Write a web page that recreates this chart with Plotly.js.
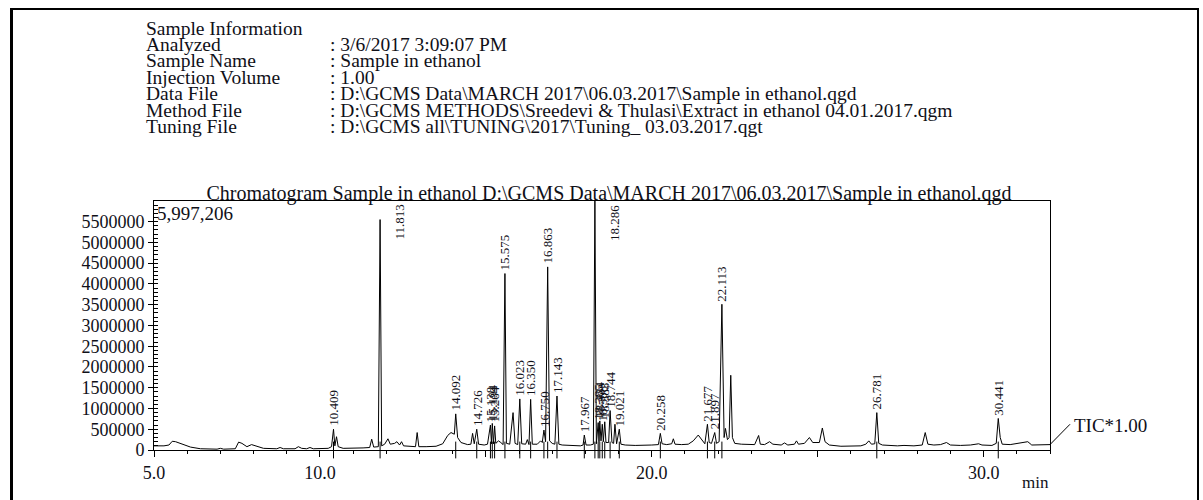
<!DOCTYPE html>
<html>
<head>
<meta charset="utf-8">
<script src="https://cdn.plot.ly/plotly-3.0.1.min.js"></script>
<style>
  html, body { margin: 0; padding: 0; background: #fff; overflow: hidden; }
  #chart { width: 1203px; height: 500px; }
  #frame { position: absolute; left: 10px; top: 8px; width: 1184px; height: 600px;
           border-left: 3px solid #000; border-top: 2px solid #000; border-right: 2px solid #000;
           pointer-events: none; }
</style>
</head>
<body>
<div id="chart"></div>
<div id="frame"></div>
<script>
// ---------------- data ----------------
const chartTitle = 'Chromatogram Sample in ethanol D:\\GCMS Data\\MARCH 2017\\06.03.2017\\Sample in ethanol.qgd';
const infoHeading = 'Sample Information';
const infoLabels = ['Analyzed', 'Sample Name', 'Injection Volume', 'Data File', 'Method File', 'Tuning File'];
const infoValues = [
  ': 3/6/2017 3:09:07 PM',
  ': Sample in ethanol',
  ': 1.00',
  ': D:\\GCMS Data\\MARCH 2017\\06.03.2017\\Sample in ethanol.qgd',
  ': D:\\GCMS METHODS\\Sreedevi & Thulasi\\Extract in ethanol 04.01.2017.qgm',
  ': D:\\GCMS all\\TUNING\\2017\\Tuning_ 03.03.2017.qgt'
];
const maxIntensityText = '5,997,206';
const maxIntensity = 5997206;
const traceName = 'TIC*1.00';
const xUnit = 'min';

// retention time (min)
const ticTime = [
  5.00, 5.30, 5.45, 5.55, 5.65, 5.85, 6.10, 6.40, 6.90, 7.00, 7.10, 7.45, 7.55, 7.65, 7.80, 7.94, 8.05,
  8.30, 8.70, 8.80, 8.90, 9.25, 9.35, 9.45, 9.60, 9.70, 9.80, 10.25, 10.35, 10.409, 10.45, 10.50, 10.55,
  10.70, 11.30, 11.50, 11.56, 11.62, 11.76, 11.813, 11.86, 11.95, 12.05, 12.12, 12.25, 12.32, 12.40,
  12.46, 12.52, 12.70, 12.88, 12.93, 12.98, 13.20, 13.50, 13.70, 13.85, 13.95, 14.05, 14.092, 14.15,
  14.25, 14.45, 14.55, 14.60, 14.65, 14.726, 14.78, 14.95, 15.05, 15.138, 15.17, 15.194, 15.23, 15.264,
  15.30, 15.38, 15.45, 15.52, 15.575, 15.62, 15.72, 15.82, 15.88, 15.96, 16.023, 16.08, 16.20, 16.25,
  16.30, 16.350, 16.40, 16.55, 16.65, 16.70, 16.750, 16.80, 16.863, 16.92, 17.00, 17.08, 17.143, 17.20,
  17.30, 17.60, 17.85, 17.93, 17.967, 18.02, 18.15, 18.24, 18.286, 18.33, 18.385, 18.41, 18.434, 18.47,
  18.508, 18.54, 18.583, 18.62, 18.70, 18.744, 18.80, 18.85, 18.89, 18.94, 19.021, 19.07, 19.20, 19.50,
  19.80, 20.00, 20.20, 20.258, 20.31, 20.45, 20.60, 20.65, 20.70, 20.90, 21.10, 21.25, 21.40, 21.52,
  21.60, 21.677, 21.73, 21.80, 21.897, 21.95, 22.03, 22.113, 22.18, 22.22, 22.28, 22.33, 22.38, 22.43,
  22.50, 22.70, 22.90, 23.10, 23.22, 23.27, 23.40, 23.55, 23.65, 23.90, 24.00, 24.10, 24.30, 24.36,
  24.42, 24.60, 24.75, 24.85, 25.05, 25.14, 25.22, 25.35, 25.70, 26.00, 26.30, 26.45, 26.54, 26.62,
  26.72, 26.781, 26.84, 26.95, 27.40, 27.60, 27.90, 28.15, 28.24, 28.32, 28.50, 28.70, 28.88, 29.00,
  29.30, 29.60, 29.85, 29.95, 30.25, 30.38, 30.441, 30.50, 30.56, 30.80, 31.00, 31.33, 31.45, 31.80, 32.00
];
// intensity (millions of counts)
const ticIntensityMillions = [
  0.10, 0.10, 0.12, 0.21, 0.20, 0.14, 0.07, 0.03, 0.02, 0.04, 0.02, 0.03, 0.19, 0.16, 0.08, 0.13, 0.10,
  0.04, 0.03, 0.06, 0.03, 0.03, 0.08, 0.04, 0.03, 0.06, 0.03, 0.04, 0.08, 0.50, 0.10, 0.32, 0.08,
  0.04, 0.05, 0.06, 0.26, 0.07, 0.08, 5.55, 0.10, 0.14, 0.27, 0.14, 0.16, 0.20, 0.12,
  0.20, 0.10, 0.09, 0.08, 0.42, 0.08, 0.08, 0.09, 0.15, 0.35, 0.42, 0.38, 0.87, 0.30,
  0.18, 0.13, 0.14, 0.40, 0.15, 0.50, 0.14, 0.12, 0.14, 0.60, 0.15, 0.64, 0.15, 0.58,
  0.16, 0.22, 0.18, 0.13, 4.25, 0.16, 0.14, 0.90, 0.16, 0.13, 1.23, 0.15, 0.14, 0.25,
  0.13, 1.22, 0.14, 0.14, 0.22, 0.18, 0.48, 0.20, 4.41, 0.22, 0.16, 0.14, 1.30, 0.14,
  0.12, 0.10, 0.10, 0.12, 0.36, 0.12, 0.12, 0.14, 5.997, 0.15, 0.66, 0.20, 0.70, 0.22,
  0.62, 0.20, 0.68, 0.18, 0.18, 0.95, 0.18, 0.16, 0.62, 0.15, 0.50, 0.14, 0.12, 0.11,
  0.11, 0.12, 0.13, 0.40, 0.15, 0.13, 0.15, 0.27, 0.14, 0.13, 0.14, 0.22, 0.36, 0.25,
  0.15, 0.62, 0.18, 0.16, 0.42, 0.16, 0.20, 3.51, 0.30, 0.52, 0.25, 0.30, 1.80, 0.30,
  0.16, 0.14, 0.14, 0.13, 0.35, 0.14, 0.13, 0.20, 0.14, 0.12, 0.17, 0.12, 0.14, 0.22,
  0.14, 0.16, 0.30, 0.18, 0.18, 0.53, 0.20, 0.12, 0.09, 0.09, 0.10, 0.14, 0.22, 0.14,
  0.15, 0.90, 0.16, 0.12, 0.10, 0.11, 0.10, 0.12, 0.42, 0.14, 0.12, 0.13, 0.18, 0.12,
  0.11, 0.12, 0.15, 0.12, 0.11, 0.16, 0.76, 0.30, 0.14, 0.13, 0.15, 0.20, 0.12, 0.12, 0.13
];

// labelled peaks
const peakLabels = ['10.409', '11.813', '14.092', '14.726', '15.138', '15.194', '15.264', '15.575',
  '16.023', '16.350', '16.750', '16.863', '17.143', '17.967', '18.286', '18.385', '18.434', '18.508',
  '18.583', '18.744', '19.021', '20.258', '21.677', '21.897', '22.113', '26.781', '30.441'];
const peakTime = [10.409, 11.813, 14.092, 14.726, 15.138, 15.194, 15.264, 15.575,
  16.023, 16.350, 16.750, 16.863, 17.143, 17.967, 18.286, 18.385, 18.434, 18.508,
  18.583, 18.744, 19.021, 20.258, 21.677, 21.897, 22.113, 26.781, 30.441];
const peakHeightMillions = [0.50, 5.55, 0.87, 0.50, 0.60, 0.64, 0.58, 4.25,
  1.23, 1.22, 0.48, 4.41, 1.30, 0.36, 5.997, 0.66, 0.70, 0.62,
  0.68, 0.95, 0.50, 0.40, 0.62, 0.42, 3.51, 0.90, 0.76];

const xTickVals = [5, 10, 15, 20, 25, 30];
const xTickText = ['5.0', '10.0', '', '20.0', '', '30.0'];
const yTickVals = [0, 500000, 1000000, 1500000, 2000000, 2500000, 3000000, 3500000, 4000000, 4500000, 5000000, 5500000];

// ---------------- layout helpers ----------------
const W = 1203, H = 500;
const M = { l: 154, r: 153, t: 201, b: 50 };
const plotW = W - M.l - M.r, plotH = H - M.t - M.b;
const px2x = px => (px - M.l) / plotW;
const px2y = py => (H - M.b - py) / plotH;
const serif = 'Liberation Serif, Times New Roman, serif';
const ink = '#101018';

const ticIntensity = ticIntensityMillions.map(v => v * 1e6);
const peakHeight = peakHeightMillions.map(v => v * 1e6);

const traces = [
  {
    type: 'scatter', mode: 'lines', x: ticTime, y: ticIntensity,
    line: { color: '#000', width: 1 }, hoverinfo: 'x+y', showlegend: false
  },
  {
    type: 'scatter', mode: 'markers', x: peakTime, y: peakTime.map(() => 0),
    marker: { symbol: 'line-ns-open', size: 12, color: '#000', line: { color: '#000', width: 1 } },
    cliponaxis: false, hoverinfo: 'skip', showlegend: false
  }
];

const headerSize = 19.5;
const annotations = [];
// header
annotations.push({ xref: 'paper', yref: 'paper', x: px2x(144), y: px2y(28), xanchor: 'left', yanchor: 'middle',
  text: infoHeading, showarrow: false, font: { family: serif, size: headerSize, color: ink } });
infoLabels.forEach((lab, i) => {
  const py = 44.3 + i * 16.45;
  annotations.push({ xref: 'paper', yref: 'paper', x: px2x(144), y: px2y(py), xanchor: 'left', yanchor: 'middle',
    text: lab, showarrow: false, font: { family: serif, size: headerSize, color: ink } });
  annotations.push({ xref: 'paper', yref: 'paper', x: px2x(328), y: px2y(py), xanchor: 'left', yanchor: 'middle',
    text: infoValues[i], showarrow: false, font: { family: serif, size: headerSize, color: ink } });
});
// max intensity
annotations.push({ xref: 'paper', yref: 'paper', x: px2x(155), y: 1, xanchor: 'left', yanchor: 'top', yshift: 0,
  text: maxIntensityText, showarrow: false, font: { family: serif, size: 19, color: ink } });
// trace name
annotations.push({ xref: 'paper', yref: 'paper', x: px2x(1072), y: px2y(425), xanchor: 'left', yanchor: 'middle',
  text: traceName, showarrow: false, font: { family: serif, size: 19, color: ink } });
// x unit
annotations.push({ xref: 'paper', yref: 'paper', x: px2x(1035), y: px2y(482), xanchor: 'center', yanchor: 'middle',
  text: xUnit, showarrow: false, font: { family: serif, size: 17, color: ink } });
// peak labels
const labelSpan = 0.8e6;
peakLabels.forEach((lab, i) => {
  const clamp = peakHeight[i] + labelSpan > maxIntensity;
  annotations.push({
    x: peakTime[i], y: clamp ? maxIntensity : peakHeight[i],
    xref: 'x', yref: 'y', textangle: -90, showarrow: false,
    xanchor: 'center', yanchor: clamp ? 'top' : 'bottom',
    xshift: clamp ? 19 : 0, yshift: clamp ? -2 : 1,
    text: lab, font: { family: serif, size: 13, color: ink }
  });
});

const layout = {
  width: W, height: H,
  margin: M,
  paper_bgcolor: '#fff', plot_bgcolor: '#fff',
  title: {
    text: chartTitle, xref: 'paper', x: px2x(609), xanchor: 'center',
    yref: 'container', y: 1 - 193 / H, yanchor: 'middle',
    font: { family: serif, size: 20, color: ink }
  },
  xaxis: {
    range: [5, 32], showgrid: false, zeroline: false,
    showline: true, linecolor: '#000', linewidth: 1, mirror: true,
    tickmode: 'array', tickvals: xTickVals, ticktext: xTickText,
    ticks: 'outside', ticklen: 6, tickcolor: '#000', tickwidth: 1,
    minor: { dtick: 1, ticks: 'outside', ticklen: 3, tickcolor: '#000', tickwidth: 1, showgrid: false },
    tickfont: { family: serif, size: 18, color: ink }, fixedrange: true
  },
  yaxis: {
    range: [0, maxIntensity], showgrid: false, zeroline: false,
    showline: true, linecolor: '#000', linewidth: 1, mirror: true,
    tickmode: 'array', tickvals: yTickVals, tickformat: 'd',
    ticks: 'outside', ticklen: 5, tickcolor: '#000', tickwidth: 1,
    minor: { dtick: 100000, ticks: 'inside', ticklen: 4, tickcolor: '#000', tickwidth: 1, showgrid: false },
    tickfont: { family: serif, size: 18, color: ink }, fixedrange: true
  },
  shapes: [
    { type: 'line', xref: 'paper', yref: 'y', x0: 1, x1: px2x(1070),
      y0: ticIntensity[ticIntensity.length - 1], y1: 0.62e6, line: { color: '#000', width: 1 } }
  ],
  annotations: annotations,
  showlegend: false
};

Plotly.newPlot('chart', traces, layout, { displayModeBar: false, staticPlot: true });
</script>
</body>
</html>
